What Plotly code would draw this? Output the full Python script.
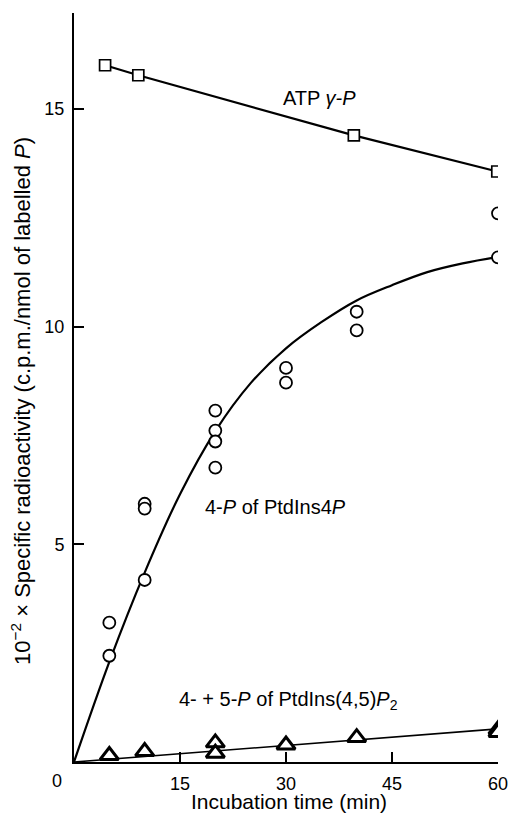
import plotly.graph_objects as go

# ATP gamma-P (squares)
atp_t = [4.4, 9.1, 39.6, 59.9]
atp_v = [16.0, 15.77, 14.39, 13.56]

# 4-P of PtdIns4P (circles)
pi4p_t = [5, 5, 10, 10, 10, 20, 20, 20, 20, 30, 30, 40, 40, 60, 60]
pi4p_v = [3.2, 2.44, 5.93, 5.82, 4.18, 8.07, 7.61, 7.36, 6.76, 9.05, 8.71, 10.34, 9.91, 12.6, 11.59]

# fitted curve through circles
curve_t = [0, 5, 10, 15, 20, 25, 30, 35, 40, 45, 50, 55, 60]
curve_v = [0, 2.3, 4.35, 6.15, 7.6, 8.7, 9.5, 10.1, 10.6, 10.95, 11.25, 11.45, 11.6]

# 4- + 5-P of PtdIns(4,5)P2 (triangles)
pip2_t = [5, 10, 20, 20, 30, 40, 60, 60]
pip2_v = [0.15, 0.24, 0.44, 0.2, 0.39, 0.56, 0.74, 0.68]
pip2_line_t = [0, 60]
pip2_line_v = [0, 0.76]

x_ticks = [15, 30, 45, 60]
y_ticks = [5, 10, 15]

FONT = "Liberation Sans, Arial, sans-serif"
fig = go.Figure()

fig.add_trace(go.Scatter(x=curve_t, y=curve_v, mode="lines", line=dict(color="black", width=2.2, shape="spline"), hoverinfo="skip"))
fig.add_trace(go.Scatter(x=pip2_line_t, y=pip2_line_v, mode="lines", line=dict(color="black", width=1.6), hoverinfo="skip"))
fig.add_trace(go.Scatter(x=atp_t, y=atp_v, mode="lines+markers", line=dict(color="black", width=2.2),
                         marker=dict(symbol="square", size=11, color="white", line=dict(color="black", width=1.7))))
fig.add_trace(go.Scatter(x=pi4p_t, y=pi4p_v, mode="markers",
                         marker=dict(symbol="circle", size=12, color="white", line=dict(color="black", width=1.8))))
fig.add_trace(go.Scatter(x=pip2_t, y=pip2_v, mode="markers",
                         marker=dict(symbol="triangle-up", size=16, color="white", line=dict(color="black", width=3))))

ann_font = dict(family=FONT, size=20, color="black")
fig.add_annotation(x=34.75, y=15.25, xref="x", yref="y", text="ATP <i>γ-P</i>", showarrow=False, font=ann_font)
fig.add_annotation(x=28.5, y=5.86, xref="x", yref="y", text="4-<i>P</i> of PtdIns4<i>P</i>", showarrow=False, font=ann_font)
fig.add_annotation(x=30.35, y=1.42, xref="x", yref="y", text="4- + 5-<i>P</i> of PtdIns(4,5)<i>P</i><sub>2</sub>", showarrow=False, font=ann_font)

fig.add_annotation(x=-0.125, y=0.482, xref="paper", yref="paper", textangle=-90,
                   text="10<sup>−2</sup> × Specific radioactivity (c.p.m./nmol of labelled <i>P</i>)",
                   showarrow=False, font=dict(family=FONT, size=22, color="black"), xanchor="center", yanchor="middle")
fig.add_annotation(x=0.507, y=-0.0534, xref="paper", yref="paper", text="Incubation time (min)",
                   showarrow=False, font=dict(family=FONT, size=21, color="black"), xanchor="center", yanchor="middle")
fig.add_annotation(x=-0.04, y=-0.0254, xref="paper", yref="paper", text="0",
                   showarrow=False, font=dict(family=FONT, size=18, color="black"), xanchor="center", yanchor="middle")

fig.update_layout(
    width=511, height=813,
    margin=dict(l=74, r=13, t=13, b=51, autoexpand=False),
    paper_bgcolor="white", plot_bgcolor="white",
    showlegend=False,
    font=dict(family=FONT, size=18, color="black"),
    xaxis=dict(range=[0, 60], tickvals=x_ticks, ticks="inside", ticklen=10, tickwidth=1.6, tickcolor="black",
               showline=True, linecolor="black", linewidth=2, showgrid=False, zeroline=False, automargin=False,
               tickfont=dict(family=FONT, size=18, color="black"), ticklabelstandoff=4),
    yaxis=dict(range=[0, 17.2], tickvals=y_ticks, ticks="inside", ticklen=10, tickwidth=1.6, tickcolor="black",
               showline=True, linecolor="black", linewidth=2, showgrid=False, zeroline=False, automargin=False,
               tickfont=dict(family=FONT, size=18, color="black"), ticklabelstandoff=4),
)

# remove the default page margin so the figure fills the window exactly
fig.write_html("out.html", config={"displayModeBar": False},
               post_script="document.body.style.margin='0';document.body.style.overflow='hidden';")
